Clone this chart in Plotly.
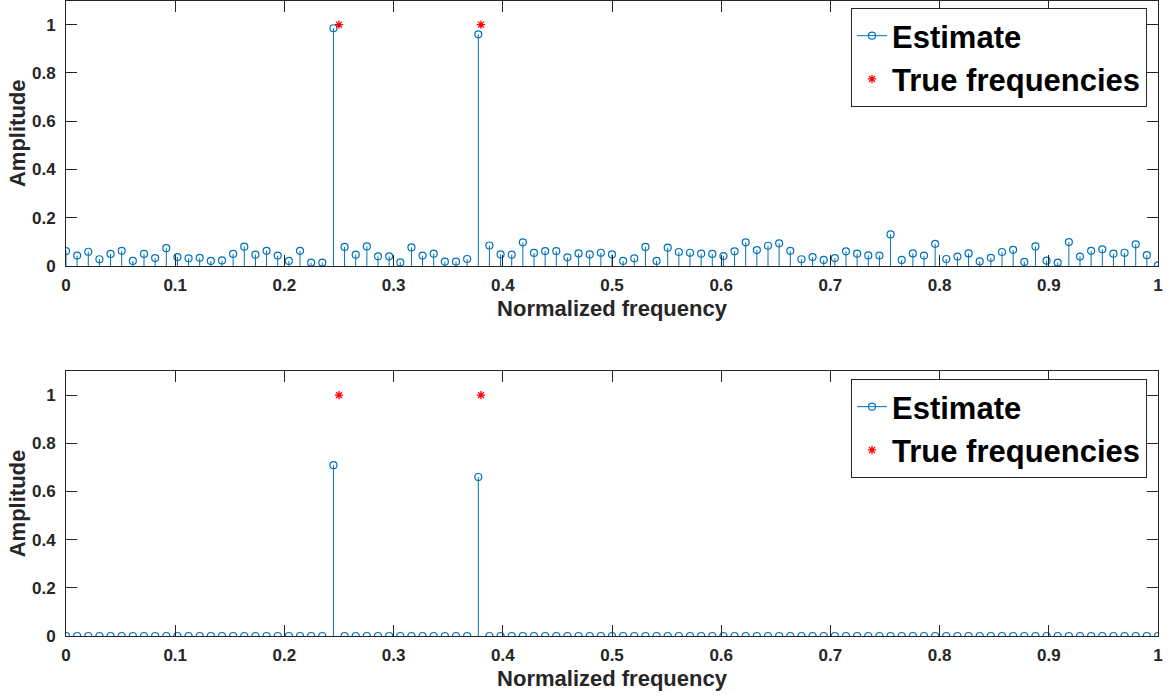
import plotly.graph_objects as go

# Normalized frequency grid (99 bins from 0 to 1)
n_bins = 99
freq = [i / (n_bins - 1) for i in range(n_bins)]

# Amplitude estimate, first method (noisy spectrum)
amp_top = [
    0.062, 0.043, 0.059, 0.028, 0.050, 0.063, 0.021, 0.050, 0.033, 0.074,
    0.037, 0.032, 0.034, 0.021, 0.023, 0.050, 0.080, 0.047, 0.063, 0.043,
    0.021, 0.063, 0.014, 0.014, 0.985, 0.079, 0.047, 0.081, 0.040, 0.040,
    0.015, 0.077, 0.043, 0.051, 0.018, 0.018, 0.029, 0.960, 0.085, 0.048,
    0.047, 0.098, 0.054, 0.062, 0.062, 0.036, 0.052, 0.048, 0.055, 0.048,
    0.021, 0.032, 0.079, 0.021, 0.076, 0.058, 0.055, 0.051, 0.050, 0.041,
    0.061, 0.098, 0.066, 0.084, 0.094, 0.063, 0.028, 0.037, 0.025, 0.033,
    0.061, 0.051, 0.044, 0.043, 0.131, 0.025, 0.052, 0.043, 0.092, 0.029,
    0.039, 0.052, 0.019, 0.034, 0.058, 0.067, 0.017, 0.081, 0.022, 0.014,
    0.099, 0.039, 0.063, 0.069, 0.051, 0.055, 0.090, 0.045, 0.003,
]

# Amplitude estimate, second method (sparse spectrum)
amp_bottom = [0.0] * n_bins
amp_bottom[24] = 0.709
amp_bottom[37] = 0.660

# True signal frequencies and amplitudes
true_freq = [0.25, 0.38]
true_amp = [1.0, 1.0]

BLUE = "#0072BD"
AXC = "#262626"
FONT = "Liberation Sans, Arial, sans-serif"

W, H = 1172, 699
x_dom = [66 / W, 1158 / W]
top_dom = [1 - 266 / H, 1 - 0.5 / H]
bot_dom = [1 - 636 / H, 1 - 371 / H]

fig = go.Figure()


def stems(x, y):
    sx, sy = [], []
    for xi, yi in zip(x, y):
        sx += [xi, xi, None]
        sy += [0, yi, None]
    return sx, sy


panels = [("x", "y", amp_top, "legend"), ("x2", "y2", amp_bottom, "legend2")]
for xa, ya, amp, leg in panels:
    sx, sy = stems(freq, amp)
    fig.add_trace(go.Scatter(
        x=sx, y=sy, mode="lines", xaxis=xa, yaxis=ya,
        line=dict(color=BLUE, width=1), showlegend=False, hoverinfo="skip",
    ))
    fig.add_trace(go.Scatter(
        x=freq, y=amp, mode="markers", xaxis=xa, yaxis=ya,
        marker=dict(symbol="circle-open", size=7, color=BLUE, line=dict(width=1.2)),
        showlegend=False,
    ))
    # legend entries
    fig.add_trace(go.Scatter(
        x=[None], y=[None], mode="lines+markers", xaxis=xa, yaxis=ya,
        name="Estimate", legend=leg,
        line=dict(color=BLUE, width=1),
        marker=dict(symbol="circle-open", size=7, color=BLUE, line=dict(width=1.2)),
    ))
    fig.add_trace(go.Scatter(
        x=true_freq, y=true_amp, mode="markers", xaxis=xa, yaxis=ya,
        name="True frequencies", legend=leg,
        marker=dict(symbol="asterisk-open", size=7, color="red", line=dict(color="red", width=1.3)),
    ))

xticks = [round(0.1 * i, 1) for i in range(11)]
yticks = [0, 0.2, 0.4, 0.6, 0.8, 1]

axis_common = dict(
    showline=True, linecolor=AXC, linewidth=1, mirror="ticks",
    ticks="inside", ticklen=11, tickcolor=AXC, tickwidth=1,
    showgrid=False, zeroline=False, automargin=False,
    tickfont=dict(family=FONT, size=17, color=AXC, weight="bold"),
)
xt = [("0" if v == 0 else ("1" if v == 1 else f"{v:g}")) for v in xticks]
yt = [("0" if v == 0 else ("1" if v == 1 else f"{v:g}")) for v in yticks]

title_font = dict(family=FONT, size=22, color=AXC, weight="bold")
for xname, yname, ydom, anchor_x, anchor_y in [
    ("xaxis", "yaxis", top_dom, "y", "x"),
    ("xaxis2", "yaxis2", bot_dom, "y2", "x2"),
]:
    fig.layout[xname] = dict(
        axis_common, domain=x_dom, anchor=anchor_x, range=[0, 1],
        tickvals=xticks, ticktext=xt, ticklabelstandoff=4,
        title=dict(text="Normalized frequency", standoff=6, font=title_font),
    )
    fig.layout[yname] = dict(
        axis_common, domain=ydom, anchor=anchor_y, range=[0, 1.1],
        tickvals=yticks, ticktext=yt, ticklabelstandoff=6,
        title=dict(text="Amplitude", standoff=0, font=title_font),
    )

legend_style = dict(
    font=dict(family=FONT, size=31, color="black", weight="bold"),
    bgcolor="white", bordercolor=AXC, borderwidth=1,
    xanchor="right", yanchor="top", itemwidth=30, tracegroupgap=0,
)
fig.update_layout(
    width=W, height=H,
    margin=dict(l=0, r=0, t=0, b=0),
    paper_bgcolor="white", plot_bgcolor="white",
    legend=dict(legend_style, x=1147 / W, y=1 - 8 / H),
    legend2=dict(legend_style, x=1147 / W, y=1 - 379 / H),
)

fig.write_html("out.html")
